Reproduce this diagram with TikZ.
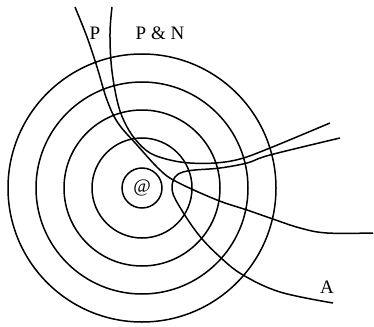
\documentclass[tikz,border=0pt]{standalone}
\usepackage{fontspec}
\setmainfont{Liberation Serif}
\usepackage{tikz}
\usetikzlibrary{positioning}
\tikzset{
  ring/.style={line width=1.5pt},
  path/.style={line width=1.5pt, smooth, tension=0.6},
  lbl/.style={inner sep=0pt, font=\fontsize{19}{21}\selectfont},
}

\begin{document}
\begin{tikzpicture}[x=1pt, y=-1pt]
  \useasboundingbox (0,0) rectangle (374,326);
  % concentric rings round the centre
  \coordinate (c) at (142,188);
  \foreach \r in {20,50,78,106,134} { \draw[ring] (c) circle (\r); }
  \node[lbl] (at) at (c) {@};
  % the three curves
  \draw[path] plot coordinates {(75,7) (87,37) (97,67) (107,100) (118,123) (137,145) (160,170) (177,182) (217,200) (247,210) (270,218) (300,228) (327,233) (373,233)};
  \draw[path] plot coordinates {(112,7) (110,33) (111.5,67) (117,100) (124,121) (135,139) (150,153) (170,160) (190,163) (215,163) (240,159) (270,148) (330,123)};
  \draw[path] plot coordinates {(333,303) (280,292) (243,275) (220,257) (198,234) (178,204) (172,189) (175,177) (183,172) (195,170) (220,168) (247,163) (270,155) (340,138)};
  \node[lbl] (p) at (95,33) {P};
  \node[lbl] (pn) at (160,33) {P \& N};
  \node[lbl] (a) at (327,287) {A};
\end{tikzpicture}
\end{document}
